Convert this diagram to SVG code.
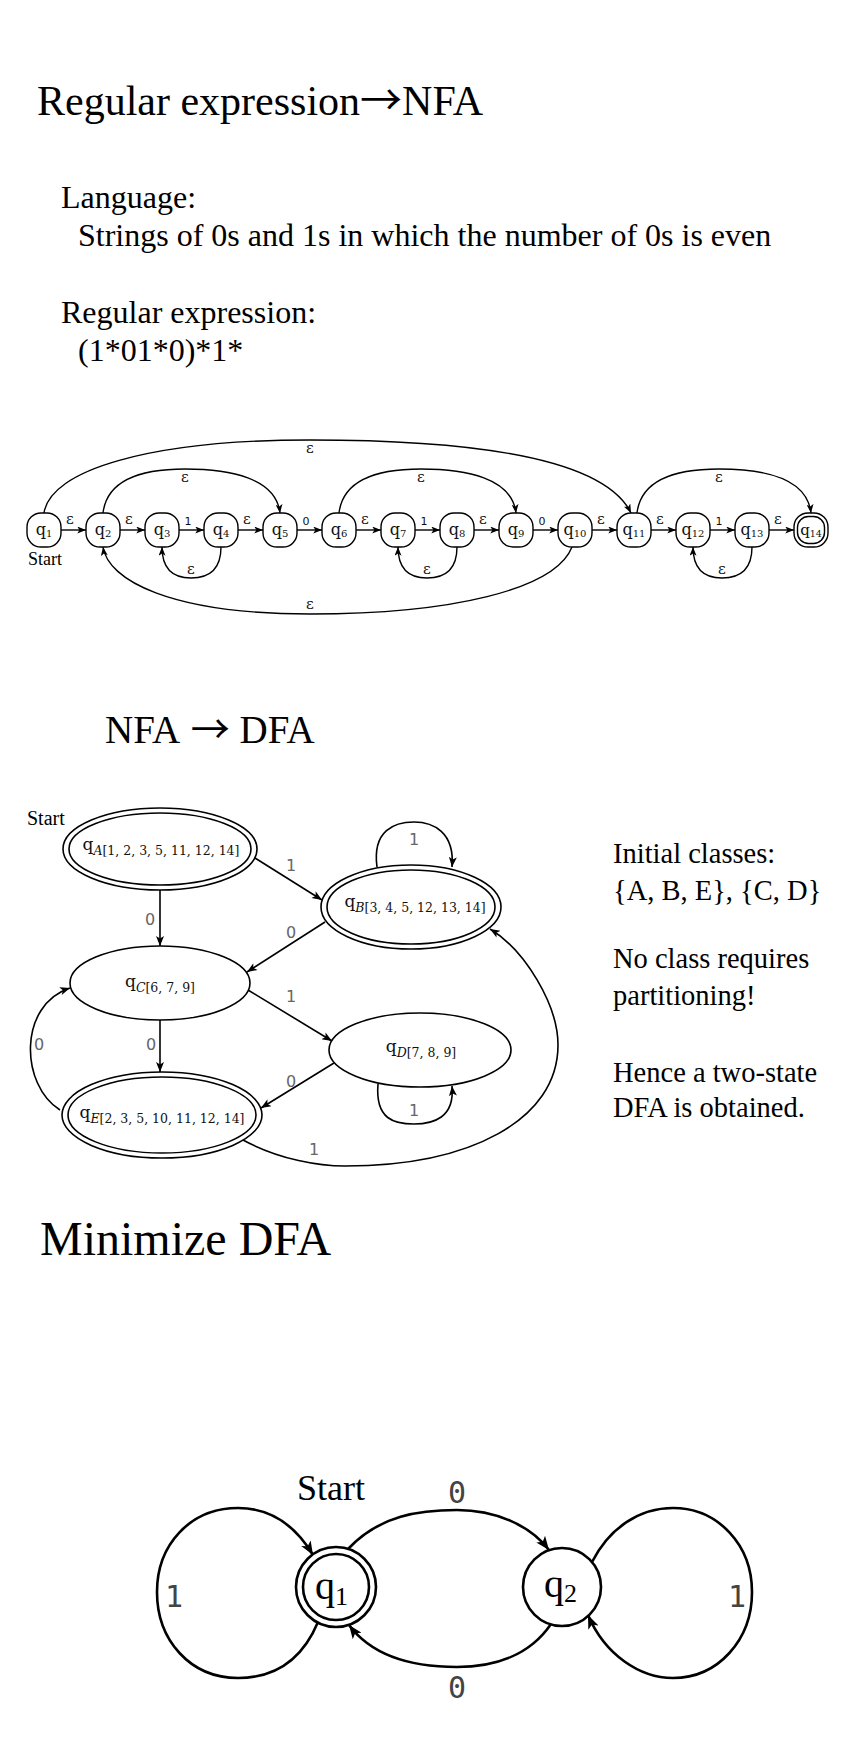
<svg xmlns="http://www.w3.org/2000/svg" width="855" height="1739" viewBox="0 0 855 1739">
<style>
.t{font-family:"Liberation Serif","Times New Roman",serif;fill:#000}
.ar{font-family:"Noto Sans CJK SC","Noto Sans CJK JP",sans-serif}
.h1{font-size:42px}
.h2{font-size:39px}
.h3{font-size:48px}
.body{font-size:32px}
.side{font-size:28.5px}
.nn{fill:#fff;stroke:#000;stroke-width:1.4}
.nl{font-family:"DejaVu Serif",serif;fill:#111;text-anchor:middle}
.e{fill:none;stroke:#000;stroke-width:1.4}
.eps{font-family:"DejaVu Serif",serif;font-size:15px;fill:#111;text-anchor:middle}
.dig{font-family:"DejaVu Sans",sans-serif;font-size:11px;fill:#111;text-anchor:middle}
.de{fill:none;stroke:#000;stroke-width:1.6}
.dn{fill:#fff;stroke:#000;stroke-width:1.6}
.dl{font-family:"DejaVu Sans",sans-serif;font-size:16px;fill:#666;text-anchor:middle}
.me{fill:none;stroke:#000;stroke-width:2.6}
.mn{fill:#fff;stroke:#000;stroke-width:2.6}
.ml{font-family:"DejaVu Sans Mono",monospace;font-size:30px;fill:#444;text-anchor:middle}
</style>
<defs>
<marker id="a1" viewBox="0 0 10 8" refX="10" refY="4" markerWidth="9" markerHeight="7" markerUnits="userSpaceOnUse" orient="auto"><path d="M0,0 L10,4 L0,8 L2.5,4 z" fill="#000"/></marker>
<marker id="a2" viewBox="0 0 10 8" refX="10" refY="4" markerWidth="11" markerHeight="8" markerUnits="userSpaceOnUse" orient="auto"><path d="M0,0 L10,4 L0,8 L2.5,4 z" fill="#000"/></marker>
<marker id="a3" viewBox="0 0 10 8" refX="10" refY="4" markerWidth="15" markerHeight="11" markerUnits="userSpaceOnUse" orient="auto"><path d="M0,0 L10,4 L0,8 L2.5,4 z" fill="#000"/></marker>
</defs>
<rect width="855" height="1739" fill="#fff"/>

<g id="texts">
<text class="t h1" x="37" y="115">Regular expression<tspan class="ar">→</tspan>NFA</text>
<text class="t body" x="61" y="208">Language:</text>
<text class="t body" x="78" y="246">Strings of 0s and 1s in which the number of 0s is even</text>
<text class="t body" x="61" y="323">Regular expression:</text>
<text class="t body" x="78" y="361">(1*01*0)*1*</text>
<text class="t h2" x="105" y="743">NFA <tspan class="ar" dx="3">→</tspan> DFA</text>
<text class="t side" x="613" y="863">Initial classes:</text>
<text class="t side" x="613" y="900">{A, B, E}, {C, D}</text>
<text class="t side" x="613" y="968">No class requires</text>
<text class="t side" x="613" y="1005">partitioning!</text>
<text class="t side" x="613" y="1082">Hence a two-state</text>
<text class="t side" x="613" y="1117">DFA is obtained.</text>
<text class="t h3" x="40" y="1255">Minimize DFA</text>
</g>

<!-- NFA connectors -->
<g id="nfa-connectors">
<path class="e" marker-end="url(#a1)" d="M61,530 H86"/>
<path class="e" marker-end="url(#a1)" d="M120,530 H145"/>
<path class="e" marker-end="url(#a1)" d="M179,530 H204"/>
<path class="e" marker-end="url(#a1)" d="M238,530 H263"/>
<path class="e" marker-end="url(#a1)" d="M297,530 H322"/>
<path class="e" marker-end="url(#a1)" d="M356,530 H381"/>
<path class="e" marker-end="url(#a1)" d="M415,530 H440"/>
<path class="e" marker-end="url(#a1)" d="M474,530 H499"/>
<path class="e" marker-end="url(#a1)" d="M533,530 H558"/>
<path class="e" marker-end="url(#a1)" d="M592,530 H617"/>
<path class="e" marker-end="url(#a1)" d="M651,530 H676"/>
<path class="e" marker-end="url(#a1)" d="M710,530 H735"/>
<path class="e" marker-end="url(#a1)" d="M769,530 H794"/>
<path class="e" marker-end="url(#a1)" d="M44,513 C50,470 150,440 310,440 C480,440 605,460 631,513"/>
<path class="e" marker-end="url(#a1)" d="M103,513 C107,480 140,469 185,469 C230,469 276,478 280,513"/>
<path class="e" marker-end="url(#a1)" d="M339,513 C343,480 376,469 421,469 C466,469 512,478 516,513"/>
<path class="e" marker-end="url(#a1)" d="M637,513 C641,480 674,469 719,469 C764,469 807,478 811,513"/>
<path class="e" marker-end="url(#a1)" d="M221,547 C221,570 209,578 191,578 C174,578 162,570 162,547"/>
<path class="e" marker-end="url(#a1)" d="M457,547 C457,570 445,578 427,578 C410,578 398,570 398,547"/>
<path class="e" marker-end="url(#a1)" d="M752,547 C752,570 740,578 722,578 C705,578 693,570 693,547"/>
<path class="e" marker-end="url(#a1)" d="M572,547 C555,590 450,614 310,614 C170,614 108,580 103,547"/>
<text class="eps" x="70" y="524">ε</text>
<text class="eps" x="129" y="524">ε</text>
<text class="dig" x="188" y="525">1</text>
<text class="eps" x="247" y="524">ε</text>
<text class="dig" x="306" y="525">0</text>
<text class="eps" x="365" y="524">ε</text>
<text class="dig" x="424" y="525">1</text>
<text class="eps" x="483" y="524">ε</text>
<text class="dig" x="542" y="525">0</text>
<text class="eps" x="601" y="524">ε</text>
<text class="eps" x="660" y="524">ε</text>
<text class="dig" x="719" y="525">1</text>
<text class="eps" x="778" y="524">ε</text>
<text class="eps" x="310" y="453">ε</text>
<text class="eps" x="185" y="482">ε</text>
<text class="eps" x="421" y="482">ε</text>
<text class="eps" x="719" y="482">ε</text>
<text class="eps" x="191" y="574">ε</text>
<text class="eps" x="427" y="574">ε</text>
<text class="eps" x="722" y="574">ε</text>
<text class="eps" x="310" y="609">ε</text>
</g>

<g id="nfa-start"><text class="t" style="font-size:18px" x="28" y="565">Start</text></g>

<g id="q1n"><rect class="nn" x="27" y="513" width="34" height="34" rx="14"/><text class="nl" x="44" y="535"><tspan font-size="16">q</tspan><tspan font-size="10" dy="2">1</tspan></text></g>
<g id="q2n"><rect class="nn" x="86" y="513" width="34" height="34" rx="14"/><text class="nl" x="103" y="535"><tspan font-size="16">q</tspan><tspan font-size="10" dy="2">2</tspan></text></g>
<g id="q3n"><rect class="nn" x="145" y="513" width="34" height="34" rx="14"/><text class="nl" x="162" y="535"><tspan font-size="16">q</tspan><tspan font-size="10" dy="2">3</tspan></text></g>
<g id="q4n"><rect class="nn" x="204" y="513" width="34" height="34" rx="14"/><text class="nl" x="221" y="535"><tspan font-size="16">q</tspan><tspan font-size="10" dy="2">4</tspan></text></g>
<g id="q5n"><rect class="nn" x="263" y="513" width="34" height="34" rx="14"/><text class="nl" x="280" y="535"><tspan font-size="16">q</tspan><tspan font-size="10" dy="2">5</tspan></text></g>
<g id="q6n"><rect class="nn" x="322" y="513" width="34" height="34" rx="14"/><text class="nl" x="339" y="535"><tspan font-size="16">q</tspan><tspan font-size="10" dy="2">6</tspan></text></g>
<g id="q7n"><rect class="nn" x="381" y="513" width="34" height="34" rx="14"/><text class="nl" x="398" y="535"><tspan font-size="16">q</tspan><tspan font-size="10" dy="2">7</tspan></text></g>
<g id="q8n"><rect class="nn" x="440" y="513" width="34" height="34" rx="14"/><text class="nl" x="457" y="535"><tspan font-size="16">q</tspan><tspan font-size="10" dy="2">8</tspan></text></g>
<g id="q9n"><rect class="nn" x="499" y="513" width="34" height="34" rx="14"/><text class="nl" x="516" y="535"><tspan font-size="16">q</tspan><tspan font-size="10" dy="2">9</tspan></text></g>
<g id="q10n"><rect class="nn" x="558" y="513" width="34" height="34" rx="14"/><text class="nl" x="575" y="535"><tspan font-size="16">q</tspan><tspan font-size="10" dy="2">10</tspan></text></g>
<g id="q11n"><rect class="nn" x="617" y="513" width="34" height="34" rx="14"/><text class="nl" x="634" y="535"><tspan font-size="16">q</tspan><tspan font-size="10" dy="2">11</tspan></text></g>
<g id="q12n"><rect class="nn" x="676" y="513" width="34" height="34" rx="14"/><text class="nl" x="693" y="535"><tspan font-size="16">q</tspan><tspan font-size="10" dy="2">12</tspan></text></g>
<g id="q13n"><rect class="nn" x="735" y="513" width="34" height="34" rx="14"/><text class="nl" x="752" y="535"><tspan font-size="16">q</tspan><tspan font-size="10" dy="2">13</tspan></text></g>
<g id="q14n"><rect class="nn" x="794" y="513" width="34" height="34" rx="14"/><rect class="nn" x="797.5" y="516.5" width="27" height="27" rx="11"/><text class="nl" x="811" y="535"><tspan font-size="15">q</tspan><tspan font-size="9.5" dy="2">14</tspan></text></g>

<!-- DFA connectors -->
<g id="dfa-connectors">
<path class="de" marker-end="url(#a2)" d="M255,858 L322,900"/>
<path class="de" marker-end="url(#a2)" d="M160,890 L160,946"/>
<path class="de" marker-end="url(#a2)" d="M325,922 L247,972"/>
<path class="de" marker-end="url(#a2)" d="M377,867 C372,830 395,822 414,822 C433,822 455,832 452,867"/>
<path class="de" marker-end="url(#a2)" d="M248,990 L332,1041"/>
<path class="de" marker-end="url(#a2)" d="M160,1020 L160,1072"/>
<path class="de" marker-end="url(#a2)" d="M60,1110 C20,1085 18,1005 70,988"/>
<path class="de" marker-end="url(#a2)" d="M334,1063 L261,1108"/>
<path class="de" marker-end="url(#a2)" d="M378,1084 C375,1120 395,1124 414,1124 C433,1124 455,1118 452,1086"/>
<path class="de" marker-end="url(#a2)" d="M243,1140 C280,1160 320,1166 345,1166 C470,1166 558,1120 558,1045 C558,1005 525,950 490,929"/>
<text class="dl" x="291" y="871">1</text>
<text class="dl" x="150" y="925">0</text>
<text class="dl" x="291" y="938">0</text>
<text class="dl" x="414" y="845">1</text>
<text class="dl" x="291" y="1002">1</text>
<text class="dl" x="151" y="1050">0</text>
<text class="dl" x="39" y="1050">0</text>
<text class="dl" x="291" y="1087">0</text>
<text class="dl" x="414" y="1116">1</text>
<text class="dl" x="314" y="1155">1</text>
</g>

<g id="dfa-start"><text class="t" style="font-size:20px" x="27" y="825">Start</text></g>

<g id="qA"><ellipse class="dn" cx="160" cy="849" rx="97" ry="41"/><ellipse class="dn" cx="160" cy="849" rx="91" ry="36"/>
<text class="nl" x="161" y="850"><tspan font-size="17">q</tspan><tspan font-size="12.5" dy="5"><tspan font-style="italic">A</tspan>[1, 2, 3, 5, 11, 12, 14]</tspan></text></g>
<g id="qB"><ellipse class="dn" cx="411" cy="907" rx="90" ry="42"/><ellipse class="dn" cx="411" cy="907" rx="84" ry="37"/>
<text class="nl" x="415" y="907"><tspan font-size="17">q</tspan><tspan font-size="12.5" dy="5"><tspan font-style="italic">B</tspan>[3, 4, 5, 12, 13, 14]</tspan></text></g>
<g id="qC"><ellipse class="dn" cx="160" cy="983" rx="90" ry="37"/>
<text class="nl" x="160" y="987"><tspan font-size="17">q</tspan><tspan font-size="12.5" dy="5"><tspan font-style="italic">C</tspan>[6, 7, 9]</tspan></text></g>
<g id="qD"><ellipse class="dn" cx="420" cy="1050" rx="91" ry="37"/>
<text class="nl" x="421" y="1052"><tspan font-size="17">q</tspan><tspan font-size="12.5" dy="5"><tspan font-style="italic">D</tspan>[7, 8, 9]</tspan></text></g>
<g id="qE"><ellipse class="dn" cx="162" cy="1115" rx="100" ry="43"/><ellipse class="dn" cx="162" cy="1115" rx="94" ry="38"/>
<text class="nl" x="162" y="1118"><tspan font-size="17">q</tspan><tspan font-size="12.5" dy="5"><tspan font-style="italic">E</tspan>[2, 3, 5, 10, 11, 12, 14]</tspan></text></g>

<!-- Minimized DFA connectors -->
<g id="min-connectors">
<path class="me" marker-end="url(#a3)" d="M348,1549 C380,1515 420,1510 457,1510 C495,1510 530,1525 549,1550"/>
<path class="me" marker-end="url(#a3)" d="M551,1624 C530,1655 495,1667 457,1667 C420,1667 375,1660 349,1625"/>
<path class="me" marker-end="url(#a3)" d="M318,1622 C300,1665 270,1678 238,1678 C190,1678 157,1640 157,1592 C157,1545 190,1508 238,1508 C270,1508 295,1525 313,1555"/>
<path class="me" marker-end="url(#a3)" d="M592,1562 C610,1527 640,1508 673,1508 C718,1508 752,1545 752,1592 C752,1640 718,1678 673,1678 C640,1678 605,1655 588,1615"/>
<text class="ml" x="457" y="1503">0</text>
<text class="ml" x="457" y="1698">0</text>
<text class="ml" x="174" y="1607">1</text>
<text class="ml" x="737" y="1607">1</text>
</g>

<g id="min-start"><text class="t" style="font-size:36px" x="297" y="1500">Start</text></g>

<g id="m1"><circle class="mn" cx="336" cy="1587" r="40"/><circle class="mn" cx="336" cy="1587" r="33"/>
<text class="t" style="font-size:40px" x="315" y="1599">q<tspan font-size="26" dy="6">1</tspan></text></g>
<g id="m2"><circle class="mn" cx="562" cy="1587" r="39"/>
<text class="t" style="font-size:40px" x="544" y="1597">q<tspan font-size="26" dy="5">2</tspan></text></g>
</svg>
